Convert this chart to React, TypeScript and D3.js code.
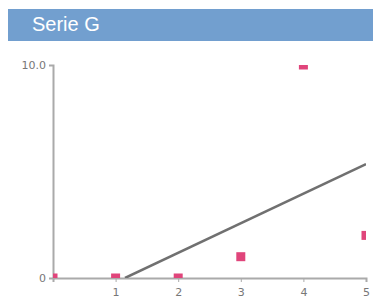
import { useRef, useEffect } from "react";
import * as d3 from "d3";

const title = "Serie G";
const xValues = [0, 1, 2, 3, 4, 5];
const yValues = [0, 0, 0, 1, 10, 2];
const xTicks = [1, 2, 3, 4, 5];
const yTicks = [0, 10];
// trend line end points
const trendX = [1.15, 5];
const trendY = [0, 5.35];

const width = 374;
const height = 305;
const margin = { top: 65, right: 8, bottom: 27, left: 53 };

const App = () => {
  const ref = useRef<SVGSVGElement>(null);

  useEffect(() => {
    if (!ref.current) return;
    const svg = d3.select(ref.current);
    svg.selectAll("*").remove();

    const x = d3
      .scaleLinear()
      .domain([0, 5])
      .range([margin.left, width - margin.right]);
    const y = d3
      .scaleLinear()
      .domain([0, 10])
      .range([height - margin.bottom, margin.top]);

    // Title bar
    svg
      .append("rect")
      .attr("x", 8)
      .attr("y", 9)
      .attr("width", 365)
      .attr("height", 32)
      .attr("fill", "#729fcf");
    svg
      .append("text")
      .attr("x", 32)
      .attr("y", 31)
      .text(title)
      .attr("fill", "#ffffff")
      .attr("font-family", "Liberation Sans, Arial, sans-serif")
      .attr("font-size", "20px");

    svg
      .append("clipPath")
      .attr("id", "plot-clip")
      .append("rect")
      .attr("x", margin.left)
      .attr("y", margin.top)
      .attr("width", width - margin.right - margin.left)
      .attr("height", height - margin.bottom - margin.top);

    // Axes
    const xAxis = svg
      .append("g")
      .attr("transform", `translate(0,${y(0)})`)
      .call(d3.axisBottom(x).tickValues(xTicks).tickSize(4).tickFormat(d3.format("d")));
    const yAxis = svg
      .append("g")
      .attr("transform", `translate(${x(0)},0)`)
      .call(
        d3
          .axisLeft(y)
          .tickValues(yTicks)
          .tickSize(4)
          .tickFormat((d) => (d === 0 ? "0" : d3.format(".1f")(d as number)))
      );
    [xAxis, yAxis].forEach((g) => {
      g.select(".domain").attr("stroke", "#aaaaaa").attr("stroke-width", 2);
      g.selectAll(".tick line").attr("stroke", "#aaaaaa");
      g.selectAll(".tick text")
        .attr("fill", "#777777")
        .attr("font-family", "DejaVu Sans, sans-serif")
        .attr("font-size", "11px");
    });
    xAxis.selectAll(".tick text").attr("dy", "1em");

    const plot = svg.append("g").attr("clip-path", "url(#plot-clip)");

    // Trend line
    const line = d3
      .line<number>()
      .x((d) => x(trendX[d]))
      .y((d) => y(trendY[d]));
    plot
      .append("path")
      .datum([0, 1])
      .attr("d", line)
      .attr("fill", "none")
      .attr("stroke", "#707070")
      .attr("stroke-width", 2.5);

    // Points
    const size = 9;
    plot
      .selectAll(".pt")
      .data(xValues)
      .enter()
      .append("rect")
      .attr("class", "pt")
      .attr("x", (d) => x(d) - size / 2)
      .attr("y", (_, i) => y(yValues[i]) - size / 2)
      .attr("width", size)
      .attr("height", size)
      .attr("fill", "#e0457b");
  }, []);

  return (
    <svg
      ref={ref}
      width={width}
      height={height}
      style={{ position: "absolute", left: 0, top: 0 }}
    />
  );
};

export default App;
